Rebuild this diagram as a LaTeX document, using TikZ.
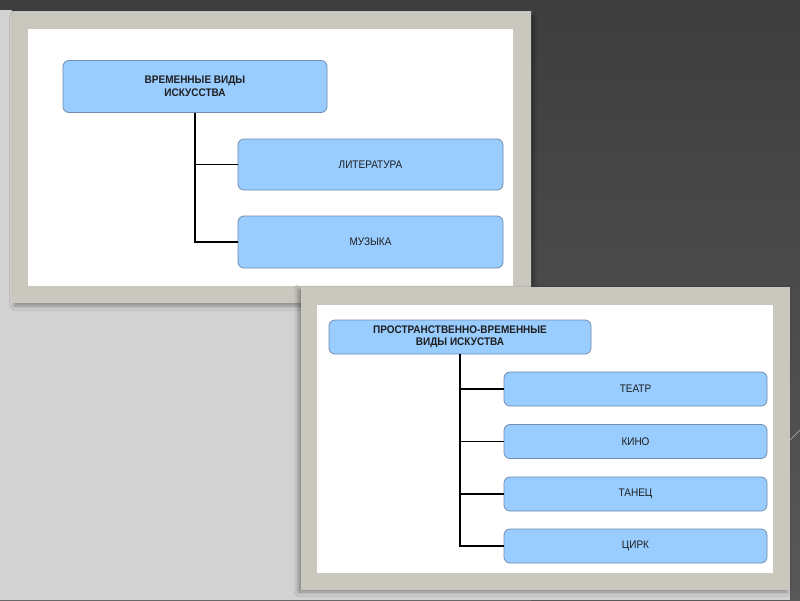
\documentclass[tikz,border=0pt]{standalone}
\usepackage{fontspec}
\setmainfont{Liberation Sans}
\usetikzlibrary{shadows.blur}
\definecolor{bgdark}{HTML}{585858}
\definecolor{bgtop}{HTML}{3E3E3E}
\definecolor{bglight}{HTML}{D2D2D2}
\definecolor{framec}{HTML}{CAC7BF}
\definecolor{boxfill}{HTML}{99CCFF}
\definecolor{boxline}{HTML}{6F8DB0}
\definecolor{txt}{HTML}{1E1E1E}
\newcommand{\tallt}[1]{\scalebox{1}[1.1]{#1}}
\tikzset{
  box/.style={draw=boxline, line width=0.8pt, fill=boxfill, rounded corners=6pt,
    inner sep=0pt, align=center, text=txt, font=\fontsize{10}{13}\selectfont},
  titlebox/.style={box, font=\fontsize{10}{13}\selectfont\bfseries},
  conn/.style={line width=1.4pt, black},
  frame/.style={fill=framec},
  sheet/.style={fill=white}
}
\begin{document}
\begin{tikzpicture}[x=1pt,y=-1pt]
\useasboundingbox (0,0) rectangle (800,600);
% background
\shade[top color=bgtop, bottom color=bgdark] (0,0) rectangle (800,600);
\fill[bglight] (0,10) -- (8,10) -- (531,10) -- (531,600) -- (0,600) -- cycle;
\fill[bglight] (531,290) rectangle (790,600);
\fill[bgtop] (8,0) -- (800,0) -- (800,11) -- (12,11) -- cycle;
\draw[white!60!bgdark, line width=0.4pt] (790,440) -- (800,430);
% frame 1
\fill[frame, blur shadow={shadow xshift=3pt, shadow yshift=-3pt, shadow opacity=35, shadow blur radius=4pt}] (11,13) rectangle (531,303);
\fill[sheet] (28,29) rectangle (513,286);
% frame 2
\fill[frame, blur shadow={shadow xshift=-3pt, shadow yshift=-2pt, shadow opacity=35, shadow blur radius=4pt}] (301,287) rectangle (790,590);
\fill[sheet] (317,305) rectangle (773,573);
% diagram 1
\node[titlebox, minimum width=264pt, minimum height=52pt] (t1) at (195,86.5) {\tallt{ВРЕМЕННЫЕ ВИДЫ}\\\tallt{ИСКУССТВА}};
\node[box, minimum width=265pt, minimum height=51pt] (lit) at (370.5,164.5) {\tallt{ЛИТЕРАТУРА}};
\node[box, minimum width=265pt, minimum height=52pt] (muz) at (370.5,242) {\tallt{МУЗЫКА}};
\draw[conn] (t1.south) |- (lit.west);
\draw[conn] (t1.south) |- (muz.west);
% diagram 2
\node[titlebox, minimum width=262pt, minimum height=34pt, font=\fontsize{10}{12}\selectfont\bfseries] (t2) at (460,337) {\tallt{ПРОСТРАНСТВЕННО-ВРЕМЕННЫЕ}\\\tallt{ВИДЫ ИСКУСТВА}};
\node[box, minimum width=263pt, minimum height=34pt] (teatr) at (635.5,389) {\tallt{ТЕАТР}};
\node[box, minimum width=263pt, minimum height=34pt] (kino) at (635.5,441.5) {\tallt{КИНО}};
\node[box, minimum width=263pt, minimum height=34pt] (tanec) at (635.5,494) {\tallt{ТАНЕЦ}};
\node[box, minimum width=263pt, minimum height=34pt] (cirk) at (635.5,546) {\tallt{ЦИРК}};
\draw[conn] (t2.south) |- (teatr.west);
\draw[conn] (t2.south) |- (kino.west);
\draw[conn] (t2.south) |- (tanec.west);
\draw[conn] (t2.south) |- (cirk.west);
\end{tikzpicture}
\end{document}
